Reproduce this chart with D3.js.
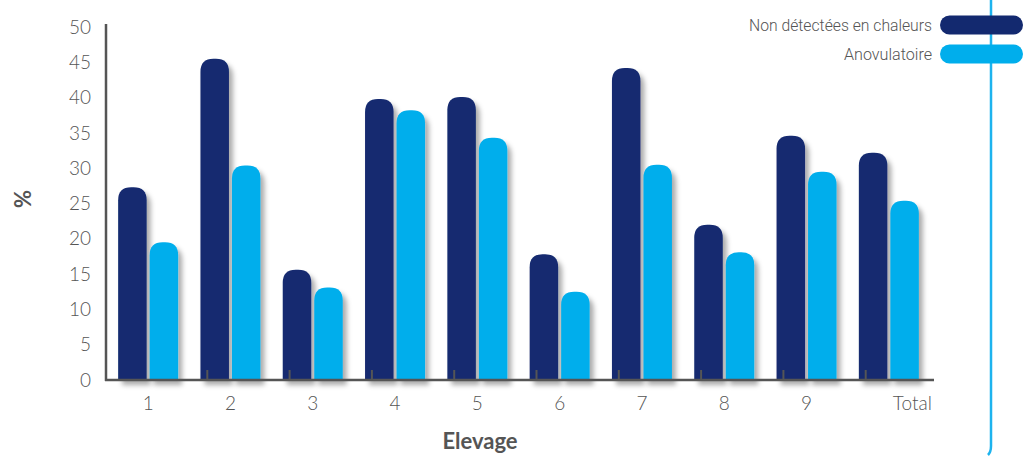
<!DOCTYPE html>
<html>
<head>
<meta charset="utf-8">
<script src="https://cdn.jsdelivr.net/npm/d3@7/dist/d3.min.js"></script>
<style>
  html, body { margin: 0; padding: 0; background: #fff; }
  svg { display: block; }
</style>
</head>
<body>
<svg id="chart" width="1027" height="456"></svg>
<script>
const categories = ["1", "2", "3", "4", "5", "6", "7", "8", "9", "Total"];
const nonDetectees = [27.3, 45.5, 15.6, 39.8, 40.1, 17.8, 44.2, 22.0, 34.6, 32.2];
const anovulatoire = [19.5, 30.4, 13.1, 38.2, 34.3, 12.5, 30.5, 18.1, 29.5, 25.4];
const seriesNames = ["Non détectées en chaleurs", "Anovulatoire"];
const yTicks = [0, 5, 10, 15, 20, 25, 30, 35, 40, 45, 50];

const colors = ["#13296F", "#00AEEC"];
const axisColor = "#555";
const svg = d3.select("#chart");

const defs = svg.append("defs");
const f = defs.append("filter").attr("id", "shadow")
  .attr("x", "-30%").attr("y", "-10%").attr("width", "180%").attr("height", "130%");
f.append("feDropShadow").attr("dx", 4).attr("dy", 5).attr("stdDeviation", 2.8)
  .attr("flood-color", "#000").attr("flood-opacity", 0.33);

const x = d3.scaleBand().domain(categories).range([107, 930]);
const y = d3.scaleLinear().domain([0, 50]).range([380, 27]);
const barW = 28.5, gap = 3;

// right decorative line
svg.append("path")
  .attr("d", "M991,0 L991,446 Q991,452 988,455")
  .attr("fill", "none").attr("stroke", "#1DB3EE").attr("stroke-width", 2.5);

function topRounded(x0, y0, w, h, r) {
  r = Math.min(r, h, w / 2);
  return `M${x0},${y0 + h} L${x0},${y0 + r} Q${x0},${y0} ${x0 + r},${y0} L${x0 + w - r},${y0} Q${x0 + w},${y0} ${x0 + w},${y0 + r} L${x0 + w},${y0 + h} Z`;
}

const data = categories.map((c, i) => ({ c, vals: [nonDetectees[i], anovulatoire[i]] }));
const groups = svg.append("g");
data.forEach(d => {
  const cx = x(d.c) + x.bandwidth() / 2;
  d.vals.forEach((v, k) => {
    const x0 = k === 0 ? cx - gap / 2 - barW : cx + gap / 2;
    groups.append("path")
      .attr("d", topRounded(x0, y(v), barW, y(0) - y(v), 13))
      .attr("fill", colors[k])
      .attr("filter", "url(#shadow)");
  });
});

// axes
svg.append("line").attr("x1", 106).attr("x2", 106).attr("y1", 24).attr("y2", 381)
  .attr("stroke", axisColor).attr("stroke-width", 2.5);
svg.append("line").attr("x1", 105).attr("x2", 934).attr("y1", 380).attr("y2", 380)
  .attr("stroke", axisColor).attr("stroke-width", 2.5);

// x ticks (small upward marks)
categories.slice(1).forEach(c => {
  const tx = x(c) + 18;
  svg.append("line").attr("x1", tx).attr("x2", tx).attr("y1", 370).attr("y2", 380)
    .attr("stroke", axisColor).attr("stroke-width", 2);
});

// y tick labels
svg.append("g").selectAll("text").data(yTicks).join("text")
  .attr("x", 91).attr("y", d => y(d)).attr("dy", "0.35em")
  .attr("text-anchor", "end")
  .attr("font-family", "Lato, sans-serif").attr("font-weight", 300)
  .attr("font-size", 19).attr("fill", "#555")
  .text(d => d);

// x tick labels
svg.append("g").selectAll("text").data(categories).join("text")
  .attr("x", d => d === "Total" ? x(d) + x.bandwidth() / 2 + 43 : x(d) + x.bandwidth() / 2)
  .attr("y", 410)
  .attr("text-anchor", d => d === "Total" ? "end" : "middle")
  .attr("font-family", "Lato, sans-serif").attr("font-weight", 300)
  .attr("font-size", 19).attr("fill", "#555")
  .text(d => d);

// axis titles
svg.append("text").attr("transform", "translate(31,199) rotate(-90)")
  .attr("text-anchor", "middle")
  .attr("font-family", "Lato, sans-serif").attr("font-weight", 700)
  .attr("font-size", 22).attr("fill", "#555").text("%");
svg.append("text").attr("x", 480).attr("y", 449)
  .attr("text-anchor", "middle")
  .attr("font-family", "Lato, sans-serif").attr("font-weight", 700)
  .attr("font-size", 22).attr("fill", "#555").text("Elevage");

// legend
const legend = svg.append("g");
seriesNames.forEach((name, k) => {
  const ly = 25 + k * 29;
  legend.append("rect").attr("x", 940).attr("y", ly - 9.5).attr("width", 83).attr("height", 19)
    .attr("rx", 9.5).attr("fill", colors[k]);
  legend.append("text").attr("x", 932).attr("y", ly).attr("dy", "0.35em")
    .attr("text-anchor", "end")
    .attr("font-family", "Roboto, sans-serif").attr("font-weight", 300)
    .attr("font-size", 17).attr("fill", "#555")
    .attr("textLength", k === 0 ? 183 : 88)
    .attr("lengthAdjust", "spacingAndGlyphs")
    .text(name);
});
</script>
</body>
</html>
